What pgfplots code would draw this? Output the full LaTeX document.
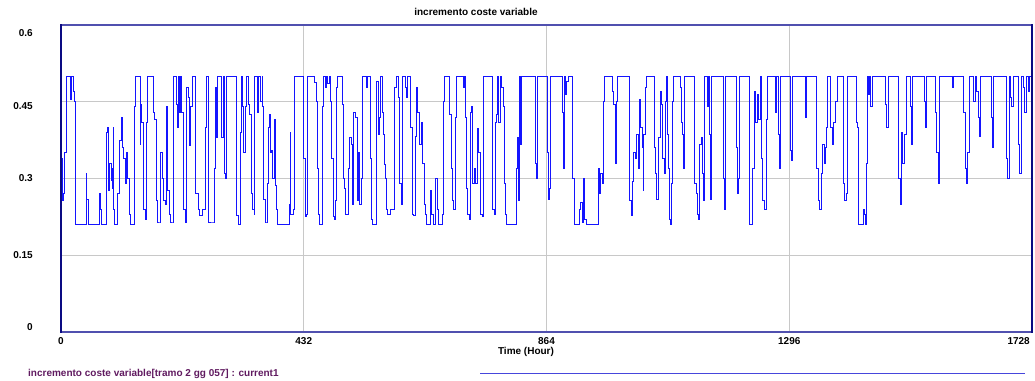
\documentclass[border=0pt]{standalone}
\usepackage{fontspec}
\setmainfont{Liberation Sans}
\usepackage{pgfplots}
\pgfplotsset{compat=1.18}
\definecolor{traceblue}{RGB}{20,20,255}
\definecolor{navyframe}{RGB}{10,10,130}
\definecolor{midframe}{RGB}{80,80,175}
\definecolor{gridgray}{RGB}{200,200,200}
\definecolor{legpurple}{RGB}{96,26,96}
\definecolor{legline}{RGB}{70,70,220}
\newcommand{\lab}{\fontsize{10bp}{12bp}\selectfont\bfseries}
\begin{document}
\begin{tikzpicture}
\useasboundingbox (0bp,0bp) rectangle (1035bp,381bp);
\begin{axis}[
  at={(61bp,49bp)}, anchor=south west,
  scale only axis, width=971bp, height=307bp,
  xmin=0, xmax=1728, ymin=0, ymax=0.6,
  axis line style={draw=none},
  major tick length=0pt,
  tick style={draw=none},
  xtick={0,432,864,1296},
  xticklabels={0,432,864,1296},
  extra x ticks={1728},
  extra x tick labels={1728},
  extra x tick style={grid=none, xticklabel style={anchor=north east, xshift=-2bp}},
  xticklabel style={font=\lab, anchor=north, inner sep=0pt, yshift=-5.5bp},
  ytick={0.0097,0.15,0.30,0.442,0.584},
  yticklabels={0\hspace{-6bp},0.15\hspace{3bp},0.3\hspace{-2bp},0.45\hspace{4bp},0.6},
  yticklabel style={font=\lab, anchor=east, inner sep=0pt, xshift=-28bp},
  extra y ticks={0.15,0.3,0.45},
  extra y tick labels={},
  extra y tick style={grid=major},
  xmajorgrids=true,
  ymajorgrids=false,
  grid style={draw=gridgray, line width=0.9bp},
]
\addplot[const plot, color=traceblue, line width=0.9bp, line join=miter] coordinates {
(0,0.27)(1,0.34)(3,0.257)(5,0.27)(7,0.35)(9,0.5)(14,0.5)(16,0.455)(18,0.5)(21,0.5)(22,0.47)(24,0.45)(25,0.21)
(43,0.21)(45,0.31)(46,0.26)(48,0.21)(68,0.21)(69,0.27)(71,0.24)(72,0.21)(80,0.21)(81,0.39)(83,0.40)(84,0.386)
(85,0.276)(87,0.33)(89,0.296)(90,0.32)(92,0.28)(93,0.40)(94,0.24)(96,0.21)(98,0.21)(100,0.27)(104,0.375)
(107,0.42)(109,0.36)(112,0.34)(114,0.29)(117,0.35)(119,0.30)(121,0.23)(123,0.21)(128,0.21)(130,0.44)(132,0.5)
(139,0.5)(141,0.367)(142,0.445)(144,0.41)(147,0.24)(150,0.22)(152,0.41)(154,0.5)(163,0.5)(164,0.43)(167,0.415)
(169,0.257)(171,0.215)(176,0.215)(177,0.35)(181,0.30)(183,0.257)(186,0.25)(188,0.44)(189,0.276)(193,0.23)
(195,0.215)(199,0.215)(201,0.5)(203,0.5)(206,0.445)(207,0.40)(209,0.5)(211,0.43)(212,0.5)(215,0.43)(218,0.24)
(221,0.215)(224,0.477)(226,0.458)(228,0.364)(230,0.44)(234,0.5)(238,0.5)(240,0.27)(244,0.24)(247,0.227)
(251,0.24)(254,0.24)(257,0.40)(259,0.5)(262,0.464)(263,0.215)(271,0.215)(273,0.32)(275,0.477)(277,0.38)
(279,0.5)(284,0.5)(286,0.38)(289,0.5)(291,0.31)(293,0.30)(295,0.5)(311,0.5)(313,0.227)(316,0.21)(319,0.39)
(321,0.5)(323,0.44)(325,0.35)(328,0.44)(330,0.5)(333,0.445)(335,0.425)(339,0.27)(341,0.24)(344,0.23)
(345,0.5)(349,0.43)(352,0.5)(355,0.45)(358,0.5)(359,0.44)(361,0.26)(363,0.215)(366,0.215)(367,0.29)(370,0.40)
(371,0.425)(373,0.35)(375,0.355)(377,0.30)(379,0.415)(381,0.286)(383,0.24)(385,0.21)(405,0.21)(406,0.25)
(408,0.39)(409,0.23)(413,0.24)(415,0.5)(431,0.5)(432,0.34)(435,0.225)(437,0.23)(439,0.5)(449,0.5)(451,0.487)
(454,0.45)(456,0.32)(458,0.23)(460,0.21)(464,0.21)(466,0.44)(467,0.5)(470,0.477)(473,0.5)(475,0.485)(478,0.5)
(479,0.45)(481,0.34)(484,0.225)(486,0.22)(488,0.257)(490,0.477)(492,0.5)(499,0.5)(501,0.445)(502,0.30)
(505,0.28)(507,0.23)(510,0.23)(512,0.32)(514,0.38)(517,0.367)(519,0.25)(521,0.43)(524,0.42)(527,0.257)
(530,0.35)(532,0.25)(534,0.30)(537,0.5)(542,0.5)(543,0.477)(545,0.5)(549,0.5)(551,0.34)(553,0.22)(555,0.21)
(558,0.21)(561,0.458)(562,0.49)(565,0.386)(567,0.42)(569,0.5)(572,0.43)(574,0.386)(575,0.328)(577,0.30)
(579,0.24)(581,0.23)(583,0.23)(586,0.24)(590,0.24)(593,0.477)(596,0.477)(597,0.5)(601,0.458)(603,0.29)
(606,0.25)(607,0.5)(612,0.5)(613,0.477)(615,0.458)(617,0.5)(620,0.5)(622,0.40)(626,0.23)(628,0.227)(630,0.383)
(633,0.477)(635,0.43)(638,0.367)(641,0.41)(644,0.33)(646,0.25)(648,0.23)(651,0.21)(655,0.21)(657,0.276)
(660,0.23)(662,0.21)(664,0.21)(667,0.30)(670,0.24)(672,0.21)(676,0.21)(678,0.23)(680,0.45)(683,0.5)
(689,0.5)(692,0.425)(694,0.32)(696,0.257)(699,0.24)(702,0.42)(704,0.5)(715,0.5)(717,0.477)(718,0.5)(720,0.42)
(722,0.28)(724,0.23)(726,0.22)(728,0.43)(731,0.44)(733,0.29)(736,0.32)(738,0.29)(741,0.397)(743,0.35)
(746,0.32)(747,0.23)(750,0.225)(752,0.5)(766,0.5)(768,0.24)(771,0.23)(773,0.41)(775,0.425)(777,0.5)(779,0.41)
(782,0.5)(784,0.477)(787,0.44)(789,0.29)(791,0.23)(792,0.21)(810,0.21)(811,0.32)(813,0.38)(814,0.257)
(816,0.5)(818,0.367)(820,0.5)(842,0.5)(844,0.33)(846,0.30)(848,0.5)(864,0.5)(865,0.35)(867,0.26)(869,0.28)
(871,0.5)(890,0.5)(892,0.43)(894,0.32)(896,0.5)(898,0.464)(900,0.49)(903,0.5)(909,0.5)(911,0.30)(913,0.21)
(921,0.21)(923,0.24)(925,0.253)(928,0.215)(930,0.30)(932,0.22)(935,0.21)(954,0.21)(956,0.32)(959,0.27)
(960,0.31)(963,0.29)(965,0.45)(967,0.5)(979,0.5)(982,0.47)(984,0.445)(986,0.33)(989,0.45)(991,0.5)(1009,0.5)
(1011,0.36)(1012,0.257)(1015,0.227)(1017,0.295)(1019,0.35)(1022,0.34)(1024,0.386)(1027,0.32)(1029,0.455)
(1031,0.40)(1034,0.36)(1036,0.276)
(1037,0.386)(1040,0.477)(1042,0.5)(1054,0.5)(1056,0.36)(1058,0.31)(1060,0.26)(1062,0.26)(1064,0.38)
(1067,0.47)(1069,0.445)(1071,0.34)(1074,0.31)(1076,0.45)(1077,0.5)(1079,0.386)(1081,0.32)(1083,0.22)
(1085,0.21)(1087,0.29)(1088,0.45)(1090,0.5)(1101,0.5)(1103,0.477)(1105,0.41)(1106,0.386)(1108,0.32)
(1110,0.5)(1126,0.5)(1128,0.29)(1130,0.27)(1132,0.23)(1134,0.22)(1136,0.367)(1139,0.38)(1141,0.31)
(1143,0.257)(1145,0.5)(1149,0.5)(1150,0.44)(1152,0.5)(1154,0.386)(1156,0.26)(1157,0.5)(1175,0.5)(1178,0.30)
(1180,0.24)(1182,0.5)(1200,0.5)(1202,0.36)(1204,0.27)(1205,0.30)(1208,0.5)(1223,0.5)(1225,0.21)(1229,0.21)
(1231,0.32)(1234,0.47)(1236,0.41)(1239,0.464)(1241,0.415)(1244,0.5)(1246,0.34)(1249,0.257)(1252,0.24)
(1255,0.415)(1257,0.5)(1270,0.5)(1272,0.43)(1274,0.5)(1276,0.386)(1278,0.32)(1280,0.40)(1281,0.5)(1295,0.5)
(1298,0.355)(1300,0.335)(1302,0.5)(1322,0.5)(1324,0.42)(1326,0.5)(1342,0.5)(1345,0.32)(1348,0.257)(1350,0.24)
(1353,0.31)(1355,0.367)(1358,0.33)(1360,0.36)(1363,0.40)(1364,0.5)(1367,0.5)(1369,0.40)(1372,0.367)
(1375,0.41)(1378,0.45)(1381,0.5)
(1391,0.5)(1392,0.445)(1393,0.29)(1395,0.257)(1397,0.27)(1399,0.5)(1415,0.5)(1416,0.41)(1418,0.40)(1420,0.21)
(1427,0.21)(1428,0.24)(1430,0.23)(1432,0.21)(1434,0.33)(1436,0.5)(1437,0.464)(1439,0.5)(1441,0.44)(1444,0.5)
(1465,0.5)(1467,0.445)(1469,0.40)(1472,0.5)(1488,0.5)(1490,0.35)(1491,0.30)(1493,0.25)(1495,0.39)(1498,0.33)
(1501,0.386)(1504,0.5)(1508,0.5)(1511,0.44)(1514,0.367)(1516,0.5)(1535,0.5)(1536,0.45)(1538,0.40)(1541,0.5)
(1554,0.5)(1556,0.43)(1558,0.35)(1561,0.29)(1564,0.5)(1584,0.5)(1586,0.477)(1589,0.5)(1605,0.5)(1606,0.43)
(1609,0.32)(1611,0.29)(1613,0.35)(1616,0.5)(1622,0.5)(1624,0.45)(1627,0.5)(1629,0.47)(1632,0.42)(1634,0.383)
(1637,0.5)(1652,0.5)(1655,0.42)(1658,0.36)(1660,0.5)(1679,0.5)(1682,0.34)(1685,0.30)(1688,0.5)(1690,0.458)
(1692,0.44)(1695,0.5)(1699,0.5)(1703,0.367)(1706,0.31)(1709,0.5)(1712,0.477)(1715,0.43)(1718,0.5)(1721,0.47)
(1723,0.5)(1728,0.5)
};
\end{axis}
% frame
\draw[midframe, line width=2bp] (61bp,356bp) -- (1032bp,356bp);
\draw[midframe, line width=2bp] (61bp,49bp) -- (1032bp,49bp);
\draw[navyframe, line width=2.6bp] (61bp,48bp) -- (61bp,357bp);
\draw[navyframe, line width=2.4bp] (1032bp,48bp) -- (1032bp,357bp);
% title and labels
\node[font=\lab, inner sep=0pt] at (476bp,369bp) {incremento coste variable};
\node[font=\lab, inner sep=0pt] at (526bp,29bp) {Time (Hour)};
\node[font=\lab, text=legpurple, inner sep=0pt, anchor=west] at (28bp,7bp) {incremento coste variable[tramo 2 gg 057] : current1};
\draw[legline, line width=0.9bp] (480bp,8bp) -- (1025bp,8bp);
\end{tikzpicture}
\end{document}
